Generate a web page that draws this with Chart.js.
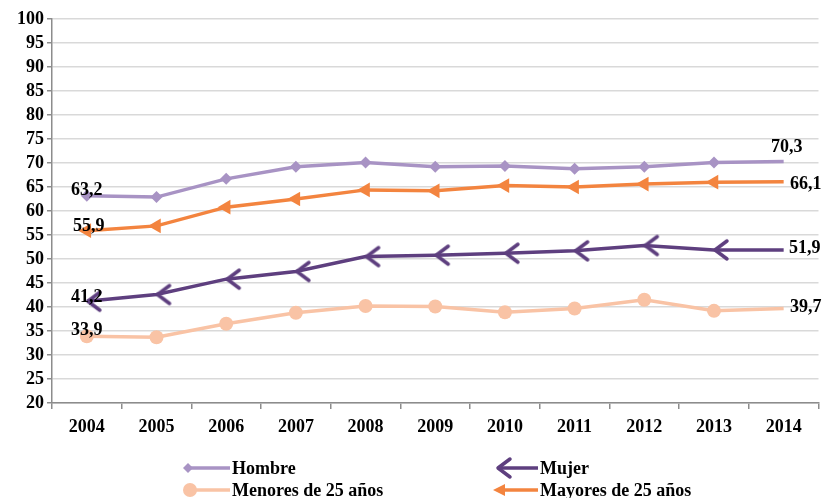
<!DOCTYPE html>
<html>
<head>
<meta charset="utf-8">
<script src="https://cdn.jsdelivr.net/npm/chart.js@4/dist/chart.umd.min.js"></script>
<style>
  html, body { margin: 0; padding: 0; background: #fff; overflow: hidden; }
  #wrap { width: 830px; height: 498px; position: relative; }
  canvas { display: block; }
</style>
</head>
<body>
<div id="wrap"><canvas id="chart"></canvas></div>
<script>
const years = ['2004','2005','2006','2007','2008','2009','2010','2011','2012','2013','2014'];
const hombre   = [63.2, 62.9, 66.7, 69.2, 70.1, 69.2, 69.4, 68.8, 69.2, 70.1, 70.3];
const mujer    = [41.2, 42.6, 45.8, 47.4, 50.5, 50.8, 51.2, 51.7, 52.8, 51.9, 51.9];
const menores  = [33.9, 33.7, 36.5, 38.8, 40.2, 40.1, 38.9, 39.7, 41.5, 39.2, 39.7];
const mayores  = [55.9, 56.9, 60.8, 62.5, 64.4, 64.2, 65.3, 65.0, 65.6, 66.0, 66.1];
const seriesNames = ['Hombre', 'Mujer', 'Menores de 25 años', 'Mayores de 25 años'];
const yTicks = [20, 25, 30, 35, 40, 45, 50, 55, 60, 65, 70, 75, 80, 85, 90, 95, 100];

const FONT = 'bold 18px "Liberation Serif", "Times New Roman", serif';
const cHombre = '#a893c4', cMujer = '#5e3f7f', cMenores = '#f9c3a5', cMayores = '#f3843f';

// open "<" arrow used for Mujer
function chevron(color) {
  const c = document.createElement('canvas');
  c.width = 34; c.height = 26;
  const g = c.getContext('2d');
  g.strokeStyle = color; g.lineWidth = 3.5; g.lineCap = 'round'; g.lineJoin = 'round';
  g.beginPath(); g.moveTo(30, 4); g.lineTo(18, 13); g.lineTo(30, 22); g.stroke();
  return c;
}
const mujerMark = chevron(cMujer);

// hide marker on the last point
const radii = r => years.map((_, i) => i === years.length - 1 ? 0 : r);

// label offsets for first / last values
const labelPos = [
  { first: [0, -5],  last: [3, -14] },
  { first: [0, -4],  last: [21, -2] },
  { first: [0, -6],  last: [22, -1] },
  { first: [2, -4],  last: [22, 3] }
];

const valueLabels = {
  id: 'valueLabels',
  afterDatasetsDraw(chart) {
    const ctx = chart.ctx;
    ctx.save();
    ctx.font = FONT; ctx.fillStyle = '#000';
    ctx.textAlign = 'center'; ctx.textBaseline = 'middle';
    chart.data.datasets.forEach((ds, di) => {
      const meta = chart.getDatasetMeta(di);
      const n = ds.data.length - 1;
      [[0, 'first'], [n, 'last']].forEach(([i, k]) => {
        const p = meta.data[i];
        const o = labelPos[di][k];
        ctx.fillText(ds.data[i].toFixed(1).replace('.', ','), p.x + o[0], p.y + o[1]);
      });
    });
    ctx.restore();
  }
};

const legendGrid = {
  id: 'legendGrid',
  afterDraw(chart) {
    const ctx = chart.ctx;
    const cells = [[188, 468], [496, 468], [188, 490], [496, 490]];
    ctx.save();
    chart.data.datasets.forEach((ds, k) => {
      const [x, y] = cells[k];
      ctx.strokeStyle = ds.borderColor; ctx.lineWidth = 3.5;
      ctx.beginPath(); ctx.moveTo(x + 2, y); ctx.lineTo(x + 42, y); ctx.stroke();
      ctx.fillStyle = ds.borderColor;
      if (ds.pointStyle === 'rectRot') {
        ctx.beginPath(); ctx.moveTo(x - 5, y); ctx.lineTo(x, y - 5); ctx.lineTo(x + 5, y); ctx.lineTo(x, y + 5); ctx.fill();
      } else if (ds.pointStyle === 'circle') {
        ctx.beginPath(); ctx.arc(x + 2, y, 7, 0, Math.PI * 2); ctx.fill();
      } else if (ds.pointStyle === 'triangle') {
        ctx.beginPath(); ctx.moveTo(x - 3, y); ctx.lineTo(x + 9, y - 6); ctx.lineTo(x + 9, y + 6); ctx.fill();
      } else {
        ctx.drawImage(ds.pointStyle, x - 16, y - 13);
      }
      ctx.font = FONT; ctx.fillStyle = '#000';
      ctx.textAlign = 'left'; ctx.textBaseline = 'middle';
      ctx.fillText(ds.label, x + 44, y + 1);
    });
    ctx.restore();
  }
};

const tickFont = { family: '"Liberation Serif", "Times New Roman", serif', size: 18, weight: 'bold' };

new Chart(document.getElementById('chart'), {
  type: 'line',
  data: {
    labels: years,
    datasets: [
      { label: seriesNames[0], data: hombre, borderColor: cHombre, backgroundColor: cHombre,
        borderWidth: 3.5, pointStyle: 'rectRot', pointRadius: radii(6), pointBorderWidth: 0 },
      { label: seriesNames[1], data: mujer, borderColor: cMujer, backgroundColor: cMujer,
        borderWidth: 3.5, pointStyle: mujerMark, pointRadius: radii(8) },
      { label: seriesNames[2], data: menores, borderColor: cMenores, backgroundColor: cMenores,
        borderWidth: 3.5, pointStyle: 'circle', pointRadius: radii(7), pointBorderWidth: 0 },
      { label: seriesNames[3], data: mayores, borderColor: cMayores, backgroundColor: cMayores,
        borderWidth: 3.5, pointStyle: 'triangle', pointRotation: -90, pointRadius: radii(8.5), pointBorderWidth: 0 }
    ]
  },
  options: {
    responsive: true,
    maintainAspectRatio: false,
    animation: false,
    layout: { padding: { top: 19, right: 5, bottom: 55, left: 0 } },
    plugins: { legend: { display: false }, tooltip: { enabled: false } },
    elements: { line: { tension: 0 } },
    scales: {
      x: {
        offset: true,
        grid: { offset: true, drawOnChartArea: false, drawTicks: true, tickLength: 6, color: '#8c8c8c', lineWidth: 1.5 },
        border: { color: '#8c8c8c', width: 1.5 },
        ticks: { color: '#000', font: tickFont, padding: 8 },
        afterFit: s => { s.height = 40; }
      },
      y: {
        min: 20, max: 100,
        afterBuildTicks: s => { s.ticks = yTicks.map(v => ({ value: v })); },
        grid: { color: '#d9d9d9', lineWidth: 1.5, drawTicks: true, tickLength: 5, tickColor: '#8c8c8c' },
        border: { color: '#8c8c8c', width: 1.5 },
        ticks: { color: '#000', font: tickFont, padding: 3, autoSkip: false, stepSize: 5 },
        afterFit: s => { s.width = 52; }
      }
    }
  },
  plugins: [valueLabels, legendGrid]
});
</script>
</body>
</html>
